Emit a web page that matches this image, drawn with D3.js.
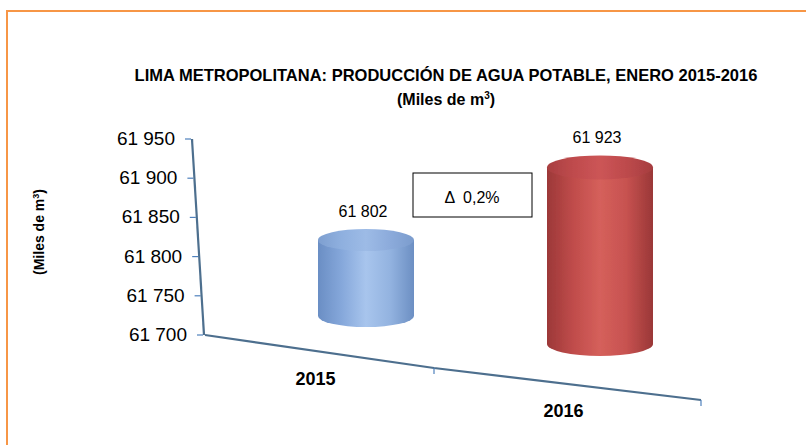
<!DOCTYPE html>
<html>
<head>
<meta charset="utf-8">
<script src="https://cdn.jsdelivr.net/npm/d3@7"></script>
<style>
    body { margin: 0; background: #fff; }
    #chart-area { width: 806px; height: 445px; }
    text { font-family: "Liberation Sans Narrow", "Arial Narrow", "Liberation Sans", Arial, sans-serif; fill: #000; }
</style>
</head>
<body>
<div id="chart-area"></div>
<script>

// chart data
let years = ['2015', '2016'];
let production = [61802, 61923];
let yTicks = [61700, 61750, 61800, 61850, 61900, 61950];
let changeLabel = 'Δ  0,2%';
let chartTitle = 'LIMA METROPOLITANA: PRODUCCIÓN DE AGUA POTABLE, ENERO 2015-2016';


class CylinderChart {

    constructor(parentElement, years, values) {
        this.parentElement = parentElement;
        this.years = years;
        this.values = values;

        this.initVis()
    }

    initVis(){
        let vis = this;

        vis.width = 806;
        vis.height = 445;

        vis.svg = d3.select("#" + vis.parentElement).append("svg")
            .attr("width", vis.width)
            .attr("height", vis.height);

        // gradients for the cylinders
        let defs = vis.svg.append('defs');
        vis.addGradient(defs, 'blueBody', ['#6a8ec4', '#86a8db', '#a8c5ed', '#93b3e0', '#6c8fc3']);
        vis.addGradient(defs, 'blueTop', ['#7e9fd0', '#8fb0df', '#9dbbe6', '#8cabdb', '#7b9ccd']);
        vis.addGradient(defs, 'redBody', ['#9c3838', '#c04c4b', '#d5605b', '#c75250', '#9a3737']);
        vis.addGradient(defs, 'redTop', ['#a83e40', '#bf4b4d', '#cc5556', '#bd4a4c', '#a63d3f']);
        vis.fills = {body: ['url(#blueBody)', 'url(#redBody)'], top: ['url(#blueTop)', 'url(#redTop)']};

        // soft edges, like the original 3d render
        defs.append('filter')
            .attr('id', 'soft')
            .append('feGaussianBlur')
            .attr('stdDeviation', 0.7);

        // outer frame
        vis.svg.append('rect')
            .attr('x', 7)
            .attr('y', 11)
            .attr('width', 820)
            .attr('height', 460)
            .attr('fill', 'none')
            .attr('stroke', '#f79646')
            .attr('stroke-width', 2);

        // title
        vis.svg.append('text')
            .attr('x', 446)
            .attr('y', 81)
            .attr('text-anchor', 'middle')
            .style('font-size', '16.5px')
            .style('font-weight', 'bold')
            .text(chartTitle);

        let sub = vis.svg.append('text')
            .attr('x', 446)
            .attr('y', 105)
            .attr('text-anchor', 'middle')
            .style('font-size', '16px')
            .style('font-weight', 'bold');
        sub.append('tspan').text('(Miles de m');
        sub.append('tspan').attr('dy', -6).style('font-size', '10px').text('3');
        sub.append('tspan').attr('dy', 6).text(')');

        // y axis title
        let yt = vis.svg.append('text')
            .attr('transform', 'translate(44,232) rotate(-90)')
            .attr('text-anchor', 'middle')
            .style('font-size', '14px')
            .style('font-weight', 'bold');
        yt.append('tspan').text('(Miles de m');
        yt.append('tspan').attr('dy', -5).style('font-size', '9px').text('3');
        yt.append('tspan').attr('dy', 5).text(')');

        // slanted value axis
        vis.y = d3.scaleLinear()
            .domain([61700, 61950])
            .range([335, 139]);
        vis.slant = d3.scaleLinear()
            .domain([61700, 61950])
            .range([204, 192]);

        let fmt = d3.formatLocale({decimal: ',', thousands: ' ', grouping: [3], currency: ['', '']}).format(',d');
        vis.fmt = fmt;

        vis.yAxis = d3.axisLeft(vis.y)
            .tickValues(yTicks)
            .tickSize(6)
            .tickPadding(10)
            .tickFormat(fmt);

        let yg = vis.svg.append('g').attr('class', 'y-axis').call(vis.yAxis);
        yg.select('.domain').remove();
        yg.selectAll('.tick')
            .attr('transform', d => `translate(${vis.slant(d) - 1},${vis.y(d)})`);
        yg.selectAll('.tick line').attr('stroke', '#4f81bd').attr('stroke-width', 1.2);
        yg.selectAll('.tick text')
            .style('font-size', '19px')
            .attr('fill', '#000');

        vis.svg.append('line')
            .attr('x1', vis.slant(61950)).attr('y1', vis.y(61950))
            .attr('x2', vis.slant(61700)).attr('y2', vis.y(61700))
            .attr('stroke', '#4d6f8e')
            .attr('stroke-width', 2.2);

        // floor (category) axis, in perspective
        vis.floorX = d3.scaleLinear().domain([0, 1, 2]).range([205, 434, 701]);
        vis.floorY = d3.scaleLinear().domain([0, 1, 2]).range([335, 368, 400]);

        vis.svg.append('path')
            .attr('d', d3.line()([0, 1, 2].map(t => [vis.floorX(t), vis.floorY(t)])))
            .attr('fill', 'none')
            .attr('stroke', '#4d6f8e')
            .attr('stroke-width', 2.2);

        vis.svg.selectAll('.floor-tick')
            .data([1, 2])
            .enter()
            .append('line')
            .attr('class', 'floor-tick')
            .attr('x1', t => vis.floorX(t)).attr('y1', t => vis.floorY(t))
            .attr('x2', t => vis.floorX(t)).attr('y2', t => vis.floorY(t) + 6)
            .attr('stroke', '#4f81bd')
            .attr('stroke-width', 1.2);

        vis.svg.selectAll('.year-label')
            .data(vis.years)
            .enter()
            .append('text')
            .attr('class', 'year-label')
            .attr('x', (d, i) => vis.floorX(i + 0.5) - 4)
            .attr('y', (d, i) => vis.floorY(i + 0.5) + 33)
            .attr('text-anchor', 'middle')
            .style('font-size', '18px')
            .style('font-weight', 'bold')
            .text(d => d);

        // cylinder placement (deeper than the floor line)
        vis.cx = d3.scalePoint().domain(vis.years).range([366, 600]);
        vis.base = d3.scaleLinear().domain([366, 600]).range([316, 344]);
        vis.rx = d3.scaleLinear().domain([366, 600]).range([48, 53]);
        vis.ry = d3.scaleLinear().domain([366, 600]).range([11, 12]);
        vis.depth = d3.scaleLinear().domain([366, 600]).range([0.95, 1.01]);

        // change box
        vis.svg.append('rect')
            .attr('x', 413).attr('y', 173)
            .attr('width', 119).attr('height', 44)
            .attr('fill', '#fff')
            .attr('stroke', '#000')
            .attr('stroke-width', 1);
        vis.svg.append('text')
            .attr('x', 472).attr('y', 203)
            .attr('text-anchor', 'middle')
            .style('font-size', '16px')
            .style('white-space', 'pre')
            .text(changeLabel);

        this.wrangleData();
    }

    addGradient(defs, id, colors){
        let g = defs.append('linearGradient')
            .attr('id', id)
            .attr('x1', '0%').attr('x2', '100%')
            .attr('y1', '0%').attr('y2', '0%');
        colors.forEach((c, i) => {
            g.append('stop')
                .attr('offset', (i / (colors.length - 1) * 100) + '%')
                .attr('stop-color', c);
        });
    }

    wrangleData(){
        let vis = this;

        vis.displayData = vis.years.map((year, i) => ({year: year, value: vis.values[i], index: i}));

        vis.updateVis()
    }

    updateVis(){
        let vis = this;

        let bars = vis.svg.selectAll('.cylinder')
            .data(vis.displayData)
            .enter()
            .append('g')
            .attr('class', 'cylinder');

        bars.each(function(d){
            let g = d3.select(this);
            let cx = vis.cx(d.year);
            let rx = vis.rx(cx), ry = vis.ry(cx);
            // height through the value scale, shrunk by depth
            let h = (vis.y(61700) - vis.y(d.value)) * vis.depth(cx);
            let bottom = vis.base(cx);
            let top = bottom - h;

            let shape = g.append('g').attr('filter', 'url(#soft)');

            shape.append('path')
                .attr('d', `M${cx - rx},${top} L${cx - rx},${bottom} A${rx},${ry} 0 0 0 ${cx + rx},${bottom} L${cx + rx},${top} Z`)
                .attr('fill', vis.fills.body[d.index]);

            shape.append('ellipse')
                .attr('cx', cx).attr('cy', top)
                .attr('rx', rx).attr('ry', ry)
                .attr('fill', vis.fills.top[d.index]);

            g.append('text')
                .attr('x', cx - 3)
                .attr('y', top - ry - 12)
                .attr('text-anchor', 'middle')
                .style('font-size', '16px')
                .text(vis.fmt(d.value));
        });
    }
}

new CylinderChart('chart-area', years, production);

</script>
</body>
</html>
